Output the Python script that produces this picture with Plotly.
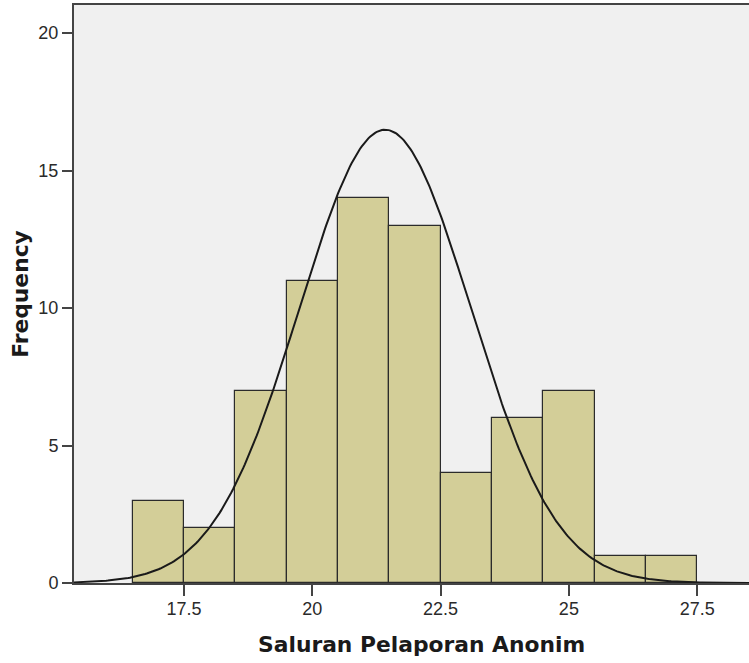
import numpy as np
import plotly.graph_objects as go

# Data
bin_centers = [17, 18, 19, 20, 21, 22, 23, 24, 25, 26, 27]
frequencies = [3, 2, 7, 11, 14, 13, 4, 6, 7, 1, 1]
bin_width = 1.0
# Normal curve parameters (SPSS-style fit)
curve_mean = 21.42
curve_sd = 1.67
n_total = sum(frequencies)

x_tick_vals = [17.5, 20, 22.5, 25, 27.5]
x_tick_text = ["17.5", "20", "22.5", "25", "27.5"]
y_tick_vals = [0, 5, 10, 15, 20]
x_title = "Saluran Pelaporan Anonim"
y_title = "Frequency"

x_range = [15.356, 28.51]
y_range = [0, 21.02]

xs = np.linspace(x_range[0], x_range[1], 400)
ys = n_total * bin_width / (curve_sd * np.sqrt(2 * np.pi)) * np.exp(-0.5 * ((xs - curve_mean) / curve_sd) ** 2)

fig = go.Figure()
fig.add_trace(go.Bar(
    x=bin_centers, y=frequencies, width=bin_width,
    marker=dict(color="rgb(211,206,152)", line=dict(color="#2b2b2b", width=1.2)),
    showlegend=False, hoverinfo="x+y",
))
fig.add_trace(go.Scatter(
    x=xs, y=ys, mode="lines", line=dict(color="#1a1a1a", width=2),
    showlegend=False, hoverinfo="skip",
))

tick_font = dict(family="Liberation Sans, Arial, sans-serif", size=18, color="#2a2a2a")
title_font = dict(family="DejaVu Sans, Verdana, sans-serif", size=21.8, color="#1a1a1a")
fig.update_layout(
    width=749, height=663,
    margin=dict(l=74, r=0, t=5, b=80),
    paper_bgcolor="white",
    plot_bgcolor="rgb(240,240,240)",
    bargap=0,
    xaxis=dict(
        range=x_range, tickvals=x_tick_vals, ticktext=x_tick_text,
        showgrid=False, zeroline=False,
        showline=True, linecolor="#444444", linewidth=2, mirror=True,
        ticks="outside", ticklen=11, tickwidth=2, tickcolor="#444444",
        tickfont=tick_font, ticklabelstandoff=-3,
    ),
    yaxis=dict(
        range=y_range, tickvals=y_tick_vals,
        showgrid=False, zeroline=False,
        showline=True, linecolor="#444444", linewidth=2,
        ticks="outside", ticklen=10, tickwidth=2, tickcolor="#444444",
        tickfont=tick_font,
        title=dict(text="<b>" + y_title + "</b>", font=title_font, standoff=4),
    ),
    annotations=[dict(
        text="<b>" + x_title + "</b>", font=title_font,
        xref="paper", yref="paper", x=0.5148, y=-0.106,
        xanchor="center", yanchor="middle", showarrow=False,
    )],
)

fig.write_html("out.html", config={"displayModeBar": False},
               post_script="document.body.style.margin='0px';document.body.style.padding='0px';")
